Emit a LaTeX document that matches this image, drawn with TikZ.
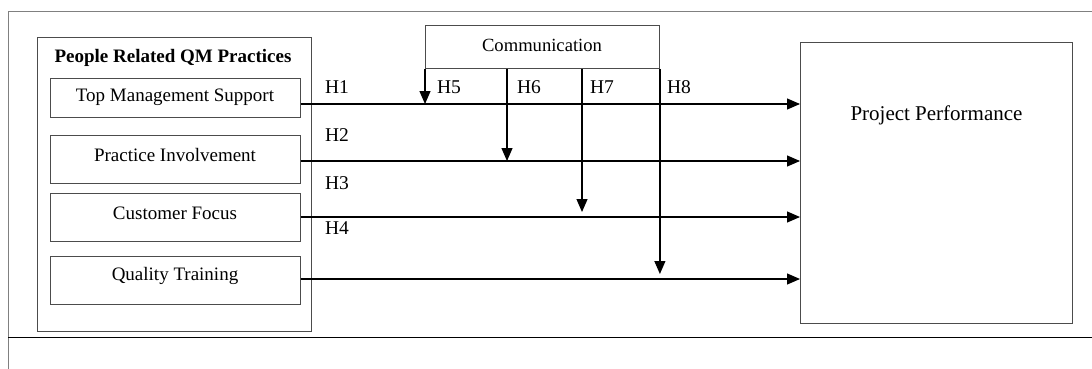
\documentclass[tikz,border=0pt]{standalone}
\usepackage{fontspec}
\setmainfont{Liberation Serif}
\usetikzlibrary{arrows.meta}
\tikzset{
  box/.style={draw=black!70, line width=0.9pt, rectangle, inner sep=0pt, anchor=north west},
  lbl/.style={font=\fontsize{19}{22}\selectfont, inner sep=0pt},
  hyp/.style={font=\fontsize{19.5}{22}\selectfont, inner sep=0pt},
  arr/.style={line width=1.2pt, -{Triangle[length=13pt,width=11pt]}},
  frame/.style={draw=black!50, line width=1pt}
}
\begin{document}
\begin{tikzpicture}[x=1pt,y=-1pt]
\useasboundingbox (0,0) rectangle (1092,369);
% page frame
\draw[frame] (1092,12) -- (8,12) -- (8,369);
\draw[line width=1pt] (8,337) -- (1092,337);

% practices group
\node[box, minimum width=274pt, minimum height=294pt] (grp) at (37,37) {};
\node[lbl, font=\fontsize{19}{22}\selectfont\bfseries] (title) at (173,58) {People Related QM Practices};
\node[box, minimum width=250pt, minimum height=39pt] (tms) at (50,78) {};
\node[lbl] (tmst) at (175,97.5) {Top Management Support};
\node[box, minimum width=250pt, minimum height=48pt] (pi) at (50,135) {};
\node[lbl] (pit) at (175,155) {Practice Involvement};
\node[box, minimum width=250pt, minimum height=48pt] (cf) at (50,193) {};
\node[lbl] (cft) at (175,213) {Customer Focus};
\node[box, minimum width=250pt, minimum height=48pt] (qt) at (50,256) {};
\node[lbl] (qtt) at (175,276) {Quality Training};

% outcome
\node[box, minimum width=272pt, minimum height=281pt] (pp) at (800,42) {};
\node[lbl, font=\fontsize{21}{24}\selectfont] (ppt) at (936.5,115) {Project Performance};

% moderator
\node[box, minimum width=234pt, minimum height=43pt] (comm) at (425,25) {};
\node[lbl, font=\fontsize{18.6}{22}\selectfont] (commt) at (542,45) {Communication};

% direct paths
\draw[arr] (tms.east |- 0,104) -- (pp.west |- 0,104);
\draw[arr] (pi.east |- 0,161) -- (pp.west |- 0,161);
\draw[arr] (cf.east |- 0,217) -- (pp.west |- 0,217);
\draw[arr] (qt.east |- 0,279) -- (pp.west |- 0,279);

% moderating paths
\draw[arr] (comm.south west) -- (comm.south west |- 0,104);
\draw[arr] (comm.south west -| 507,0) -- (507,161);
\draw[arr] (comm.south west -| 582,0) -- (582,212);
\draw[arr] (comm.south east) -- (comm.south east |- 0,274);

% hypothesis labels
\node[hyp] (h1) at (337,87.5) {H1};
\node[hyp] (h2) at (337,135) {H2};
\node[hyp] (h3) at (337,183) {H3};
\node[hyp] (h4) at (337,228) {H4};
\node[hyp] (h5) at (449,87.5) {H5};
\node[hyp] (h6) at (529,87.5) {H6};
\node[hyp] (h7) at (602,87.5) {H7};
\node[hyp] (h8) at (679,87.5) {H8};
\end{tikzpicture}
\end{document}
